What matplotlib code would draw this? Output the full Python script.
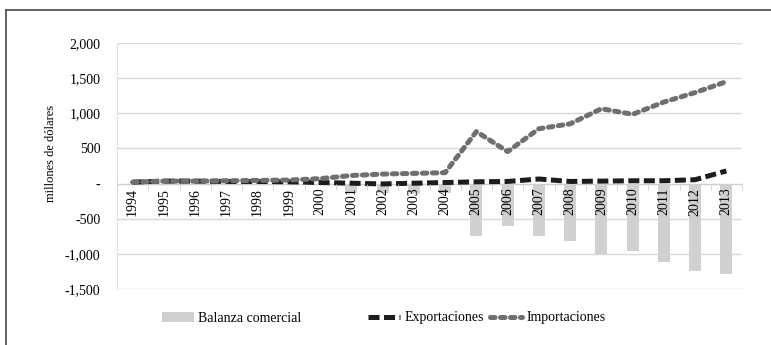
import matplotlib
matplotlib.use('Agg')
import matplotlib.pyplot as plt
from matplotlib.lines import Line2D
from matplotlib.patches import Patch
from matplotlib.ticker import FuncFormatter, FixedLocator

plt.rcParams['font.family'] = ['Liberation Serif', 'DejaVu Serif']
plt.rcParams['font.size'] = 10

years = [str(y) for y in range(1994, 2014)]
balanza = [-5, -5, -5, -5, -10, -15, -25, -130, -130, -150,
           -140, -740, -600, -740, -820, -995, -965, -1120, -1250, -1290]
exportaciones = [20, 35, 35, 30, 30, 25, 15, 5, -5, 5,
                 15, 25, 30, 65, 30, 35, 40, 40, 55, 180]
importaciones = [20, 35, 35, 40, 45, 50, 70, 115, 135, 145,
                 155, 740, 455, 780, 850, 1065, 985, 1160, 1295, 1450]

x = list(range(len(years)))

fig = plt.figure(figsize=(7.71, 3.45), dpi=100)
ax = fig.add_axes([117 / 771, 1 - 289 / 345, 625 / 771, 246 / 345])

ax.bar(x, balanza, width=0.38, color='#d0d0d0', zorder=1)
ax.plot(x, exportaciones, color='#1c1c1c', lw=3.6,
        linestyle=(0, (2.2, 0.9)), dash_capstyle='butt', zorder=3)
ax.plot(x, importaciones, color='#6f6f6f', lw=3.6,
        linestyle=(0, (0.9, 1.1)), dash_capstyle='round', zorder=4)

ax.set_xlim(-0.5, len(years) - 0.5)
ax.set_ylim(-1500, 2000)
ax.set_yticks(range(-1500, 2001, 500))
ax.yaxis.set_major_formatter(FuncFormatter(lambda v, p: '-' if v == 0 else f'{v:,.0f}'))
ax.tick_params(axis='y', length=0, pad=12, labelsize=10)
ax.grid(axis='y', color='#d9d9d9', lw=1, zorder=0)
ax.set_axisbelow(True)

# year labels hang from the zero line, ticks between categories
ax.spines['bottom'].set_position(('data', 0))
ax.spines['bottom'].set_color('#d0d0d0')
ax.spines['left'].set_color('#e0e0e0')
ax.spines['top'].set_visible(False)
ax.spines['right'].set_visible(False)
ax.set_xticks(x)
ax.set_xticklabels(years, rotation=90, va='top')
ax.tick_params(axis='x', length=0, pad=3, labelsize=10)
ax.xaxis.set_minor_locator(FixedLocator([i - 0.5 for i in range(len(years) + 1)]))
ax.tick_params(axis='x', which='minor', length=4, color='#d0d0d0', direction='out')
ax.xaxis.set_zorder(5)

ax.set_ylabel('millones de dólares', fontsize=9)
ax.yaxis.set_label_coords(-0.096, 0.55)

# legend entries laid out along the bottom
items = [
    (Patch(facecolor='#d0d0d0', edgecolor='none'), 'Balanza comercial', 162),
    (Line2D([], [], color='#1c1c1c', lw=3.6, linestyle=(0, (2.2, 0.9))), 'Exportaciones', 368),
    (Line2D([], [], color='#6f6f6f', lw=3.6, linestyle=(0, (0.9, 1.1)),
            dash_capstyle='round'), 'Importaciones', 490),
]
for handle, label, xpix in items:
    fig.legend([handle], [label], loc='center left',
               bbox_to_anchor=(xpix / 771, 1 - 318 / 345),
               frameon=False, borderpad=0, borderaxespad=0,
               handlelength=2.3, handleheight=0.7, handletextpad=0.3,
               fontsize=10)

# outer frame (left and top edges)
fig.add_artist(Line2D([6 / 771, 6 / 771], [0, 1 - 10 / 345], color='#555555', lw=1.3))
fig.add_artist(Line2D([6 / 771, 1], [1 - 10 / 345, 1 - 10 / 345], color='#555555', lw=1.3))

fig.savefig('out.png', dpi=100)
